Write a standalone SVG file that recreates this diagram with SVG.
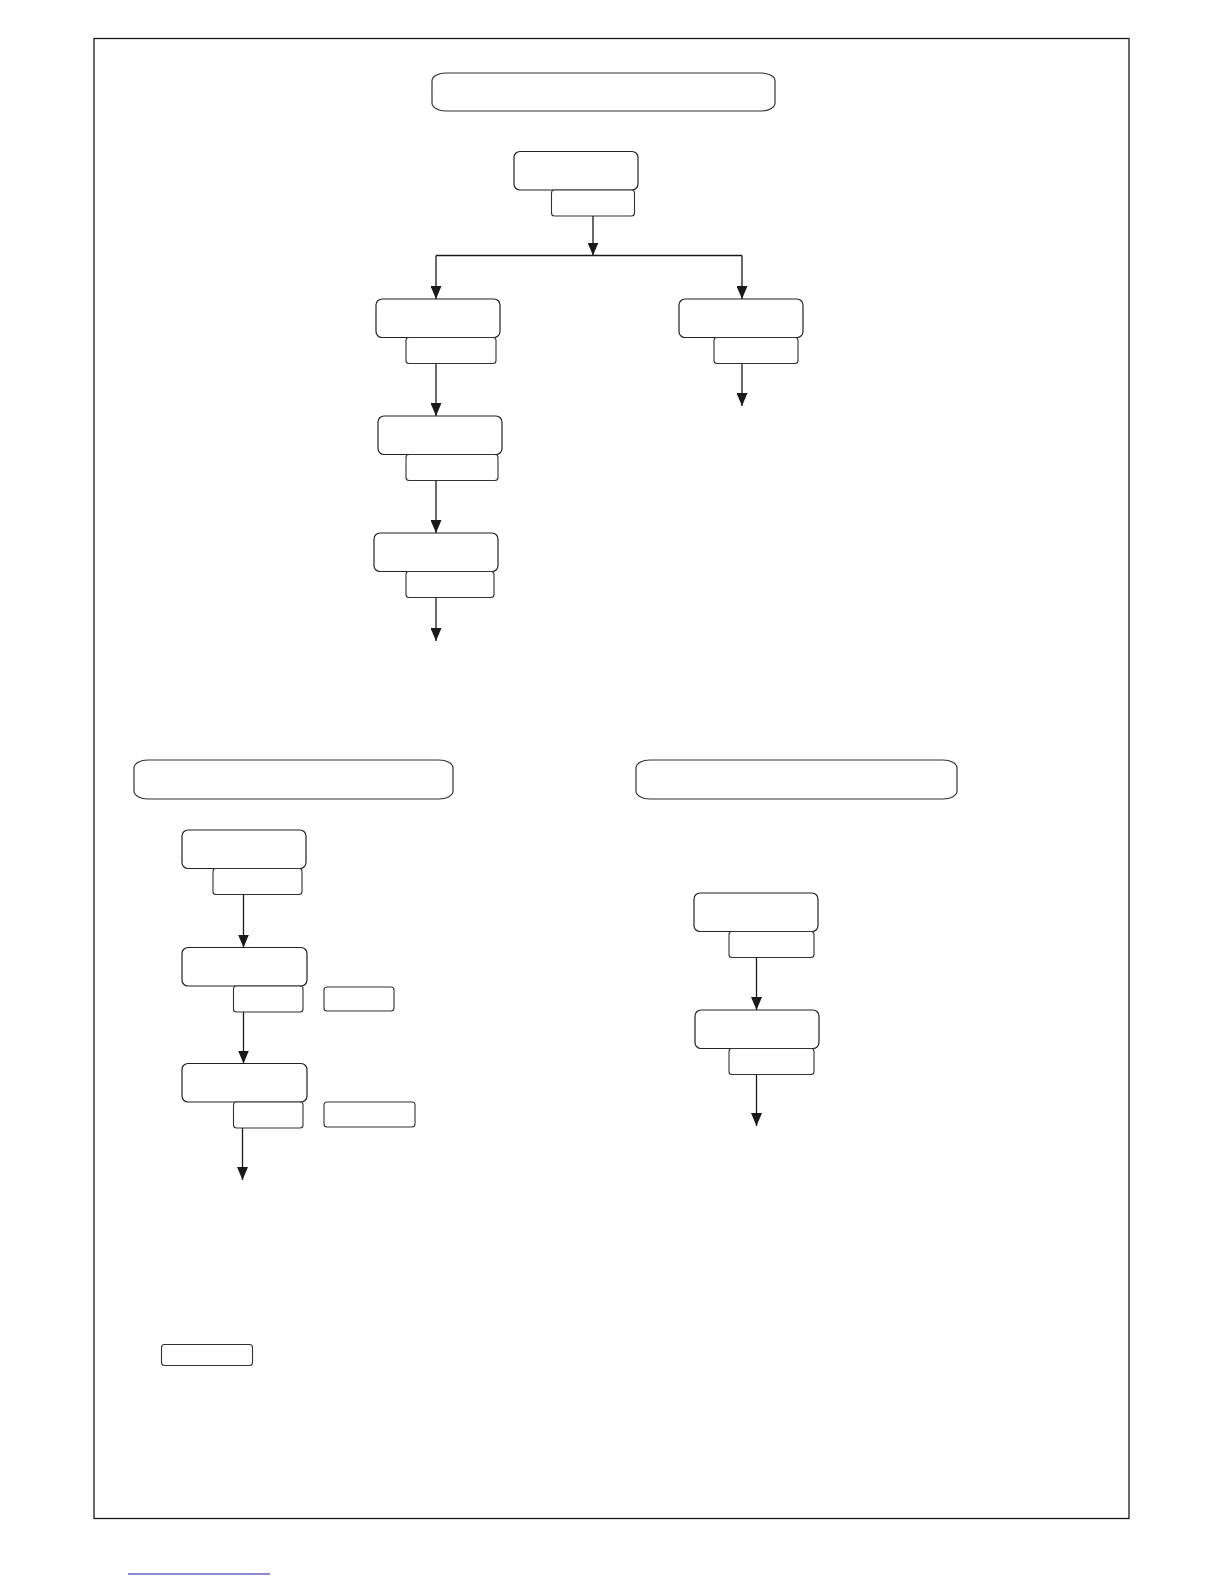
<svg xmlns="http://www.w3.org/2000/svg" width="1224" height="1584" viewBox="0 0 1224 1584">
<style>
.frame{fill:none;stroke:#1a1a1a;stroke-width:1.3}
.title{fill:#fff;stroke:#333;stroke-width:1.2}
.box{fill:#fff;stroke:#222;stroke-width:1.2}
.sub{fill:#fff;stroke:#333;stroke-width:1.1}
.conn{fill:none;stroke:#1a1a1a;stroke-width:1.3}
.link{stroke:#1a1a9a;stroke-width:1.2}
</style>
<defs>
<marker id="arr" markerUnits="userSpaceOnUse" markerWidth="13" markerHeight="11" viewBox="0 0 13 11" refX="13" refY="5.5" orient="auto">
<path d="M0,0 L13,5.5 L0,11 z" fill="#1a1a1a"/>
</marker>
</defs>
<rect width="1224" height="1584" fill="#fff"/>
<rect class="frame" x="94" y="38.5" width="1035" height="1480"/>

<g id="title-top"><rect class="title" x="432" y="73" width="343" height="38" rx="14" ry="8"/></g>
<g id="title-left"><rect class="title" x="134" y="760" width="319" height="39" rx="14" ry="8"/></g>
<g id="title-right"><rect class="title" x="636" y="760" width="321" height="39" rx="14" ry="8"/></g>

<g id="node-a"><rect class="box" x="514" y="151.5" width="124" height="38.5" rx="6"/><rect class="sub" x="551.5" y="190" width="83" height="26" rx="3"/></g>
<g id="node-b"><rect class="box" x="376" y="299" width="124" height="38.5" rx="6"/><rect class="sub" x="406" y="337.5" width="90" height="26" rx="3"/></g>
<g id="node-c"><rect class="box" x="679" y="299" width="124" height="38.5" rx="6"/><rect class="sub" x="714" y="337.5" width="84" height="26" rx="3"/></g>
<g id="node-d"><rect class="box" x="378" y="416" width="124" height="38.5" rx="6"/><rect class="sub" x="406" y="454.5" width="92" height="26" rx="3"/></g>
<g id="node-e"><rect class="box" x="374" y="533" width="124" height="38.5" rx="6"/><rect class="sub" x="406" y="571.5" width="88" height="26" rx="3"/></g>

<g id="node-f"><rect class="box" x="182" y="830" width="124" height="38.5" rx="6"/><rect class="sub" x="213" y="868.5" width="89" height="26" rx="3"/></g>
<g id="node-g"><rect class="box" x="182" y="947.5" width="125" height="38.5" rx="6"/><rect class="sub" x="233.5" y="986" width="69.5" height="26" rx="3"/></g>
<g id="side-g"><rect class="sub" x="324" y="987" width="70" height="24" rx="3"/></g>
<g id="node-h"><rect class="box" x="182" y="1063.5" width="125" height="38.5" rx="6"/><rect class="sub" x="233.5" y="1102" width="69.5" height="26" rx="3"/></g>
<g id="side-h"><rect class="sub" x="324" y="1102" width="91" height="25" rx="3"/></g>

<g id="node-i"><rect class="box" x="694" y="893" width="124" height="38.5" rx="6"/><rect class="sub" x="729" y="931.5" width="85" height="26" rx="3"/></g>
<g id="node-j"><rect class="box" x="695" y="1010" width="124" height="38.5" rx="6"/><rect class="sub" x="729" y="1048.5" width="85" height="26" rx="3"/></g>

<g id="legend"><rect class="sub" x="161.5" y="1344.5" width="91" height="21" rx="3"/></g>

<g id="connectors">
<path class="conn" d="M593,216 V255.5" marker-end="url(#arr)"/>
<path class="conn" d="M436,255.5 H742"/>
<path class="conn" d="M436,255.5 V299" marker-end="url(#arr)"/>
<path class="conn" d="M742,255.5 V299" marker-end="url(#arr)"/>
<path class="conn" d="M742,363.5 V406" marker-end="url(#arr)"/>
<path class="conn" d="M436,363.5 V416" marker-end="url(#arr)"/>
<path class="conn" d="M436,480.5 V533" marker-end="url(#arr)"/>
<path class="conn" d="M436,597.5 V641" marker-end="url(#arr)"/>
<path class="conn" d="M243.5,894.5 V947.5" marker-end="url(#arr)"/>
<path class="conn" d="M243.5,1012 V1063.5" marker-end="url(#arr)"/>
<path class="conn" d="M242.5,1128 V1180" marker-end="url(#arr)"/>
<path class="conn" d="M756.5,957.5 V1010" marker-end="url(#arr)"/>
<path class="conn" d="M756.5,1074.5 V1126" marker-end="url(#arr)"/>
</g>

<line class="link" x1="128" y1="1574" x2="270" y2="1574"/>
</svg>
